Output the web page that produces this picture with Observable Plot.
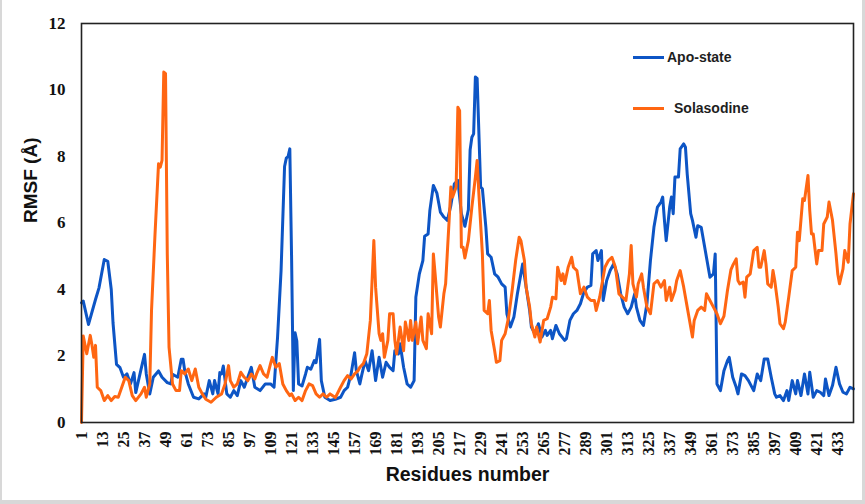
<!DOCTYPE html>
<html>
<head>
<meta charset="utf-8">
<script src="https://cdn.jsdelivr.net/npm/d3@7"></script>
<script src="https://cdn.jsdelivr.net/npm/@observablehq/plot@0.6"></script>
<style>
  html, body { margin: 0; padding: 0; background: #fff; }
  #wrap { position: relative; width: 865px; height: 504px; overflow: hidden; }
  #border { position: absolute; left: 0; top: 0; width: 865px; height: 504px; box-sizing: border-box;
            border-left: 2px solid #d8d8d8; border-right: 3px solid #d8d8d8; border-bottom: 4px solid #d8d8d8; pointer-events: none; }
  #legend { position: absolute; left: 0; top: 0; width: 865px; height: 504px; pointer-events: none;
            font-family: "Liberation Sans", Arial, sans-serif; font-weight: bold; font-size: 14px; color: #1e1e1e; }
  .item { position: absolute; display: flex; align-items: center; }
  .swatch { width: 31px; height: 3px; margin-right: 3px; }
</style>
</head>
<body>
<div id="wrap">
  <div id="chart"></div>
  <div id="legend"></div>
  <div id="border"></div>
</div>
<script>
// ---- data ----
const seriesNames = ["Apo-state", "Solasodine"];
const seriesColors = ["#0d55c5", "#ff6612"];

const apoRes = [1,2,5,9,11,14,16,18,19,21,23,25,27,29,31,32,35,37,38,40,42,45,47,50,52,53,56,58,59,60,62,65,68,71,72,74,76,77,79,80,81,82,84,86,88,90,92,94,96,98,100,103,106,109,111,113,115,117,118,119,120,121,122,123,124,125,127,129,130,132,134,135,137,138,140,143,146,149,151,153,155,157,158,160,161,163,165,167,169,171,173,175,177,179,180,182,183,185,187,189,191,192,194,196,197,199,200,202,204,206,208,210,212,214,216,218,220,222,223,224,225,226,227,229,230,232,233,235,237,239,241,243,244,246,248,250,252,253,255,257,258,260,262,264,266,267,269,270,272,274,277,278,280,282,284,286,288,290,292,293,295,296,298,299,301,303,305,307,309,311,313,315,317,318,320,322,324,326,328,330,332,333,334,335,337,338,339,340,342,343,345,346,347,349,350,352,353,355,357,358,360,362,363,364,366,368,370,371,373,375,376,378,380,382,385,387,389,391,393,395,397,398,400,402,404,405,407,409,410,412,414,416,417,419,421,423,425,426,428,430,432,434,436,438,440,442];
const apoVal = [3.6,3.65,2.95,3.7,4.05,4.9,4.85,4.0,3.0,1.75,1.65,1.36,1.46,1.16,1.5,0.9,1.6,2.05,1.46,0.86,1.36,1.55,1.36,1.2,1.16,1.45,1.36,1.9,1.9,1.55,1.16,0.76,0.71,0.86,0.76,1.26,0.86,1.26,0.86,1.5,1.46,1.7,0.86,0.76,0.96,0.81,1.26,1.06,1.36,1.66,1.06,0.96,1.16,1.16,1.06,2.57,4.57,7.7,7.95,8.0,8.23,5.0,0.96,2.7,2.45,1.16,1.1,1.46,1.66,1.6,1.86,1.8,2.5,1.26,0.76,0.66,0.7,0.76,0.96,1.06,1.46,2.1,1.56,1.16,1.41,1.86,1.56,2.16,1.26,1.96,1.36,1.81,1.66,1.56,2.16,2.06,2.37,1.66,1.16,1.06,1.26,3.77,4.47,4.87,5.6,5.67,6.38,7.13,6.9,6.33,6.18,6.08,6.53,7.18,7.28,6.28,5.9,6.4,8.2,8.58,8.68,10.39,10.35,7.08,7.03,5.87,5.07,4.97,4.47,4.37,4.17,4.07,3.27,2.87,3.17,3.87,4.47,4.77,4.07,3.37,2.87,2.67,2.97,2.57,2.77,2.62,2.77,2.52,2.92,2.67,2.47,2.52,3.07,3.27,3.37,3.57,3.92,4.07,4.12,5.07,5.17,4.87,5.17,3.67,4.27,4.57,4.77,4.47,3.87,3.47,3.27,3.47,3.87,3.47,3.07,2.92,3.57,4.87,5.87,6.48,6.63,6.78,6.08,5.47,6.48,6.78,6.28,7.38,7.38,8.23,8.38,8.28,7.48,6.28,6.08,5.57,5.92,5.87,5.27,4.97,4.37,4.47,5.07,1.16,0.96,1.56,1.86,1.96,1.36,1.06,0.86,1.46,1.41,1.26,0.96,1.46,1.26,1.91,1.91,1.36,0.86,0.76,0.81,0.66,0.96,0.66,1.26,0.86,1.26,0.81,1.46,0.86,1.51,0.76,0.96,0.91,0.81,1.31,0.81,1.11,1.66,1.16,0.91,0.86,1.06,1.01];

const solRes = [1,2,4,6,7,8,9,10,12,14,16,18,20,22,24,26,28,30,32,35,37,38,40,41,43,45,46,47,48,49,50,51,53,55,57,58,60,62,64,66,68,70,72,75,78,81,83,85,86,88,90,92,94,96,98,100,101,103,105,107,109,110,112,114,116,118,120,121,123,125,127,129,131,133,135,137,139,141,143,146,149,151,153,155,157,159,160,162,164,166,168,169,171,172,173,174,176,177,179,180,181,183,185,186,188,189,190,192,193,195,196,198,199,201,202,203,205,206,208,209,211,212,213,215,216,217,218,219,220,222,224,226,227,228,230,231,233,234,235,237,238,240,241,243,245,247,249,251,252,254,255,257,258,260,261,263,265,267,269,270,272,273,275,276,277,279,281,282,284,286,288,290,292,294,295,297,298,300,302,304,306,308,310,312,314,315,316,318,319,321,322,324,326,328,330,332,334,335,337,338,340,341,343,345,347,348,350,351,353,355,357,358,360,362,364,366,368,370,372,373,375,376,377,379,380,381,383,385,387,388,389,391,392,393,395,396,397,399,400,402,403,405,407,409,410,411,413,414,416,417,418,419,421,422,424,425,427,428,430,432,433,434,436,437,439,440,442];
const solVal = [0.0,2.6,2.07,2.62,2.32,1.96,2.32,1.06,0.96,0.66,0.81,0.66,0.78,0.76,1.06,1.36,1.26,0.81,0.66,0.86,1.06,0.76,1.16,3.37,5.67,7.78,7.68,7.88,10.54,10.49,5.07,2.27,1.16,0.96,0.96,1.56,1.46,1.61,1.26,1.61,1.06,0.86,0.7,0.61,0.76,0.86,1.16,1.71,1.26,1.06,1.16,1.51,1.36,1.26,1.46,1.31,1.46,1.71,1.46,1.36,1.77,1.96,1.66,1.77,1.16,0.96,0.81,0.86,0.66,0.76,0.66,0.96,1.16,1.11,0.86,0.76,0.86,0.76,0.86,0.75,1.06,1.26,1.41,1.31,1.46,1.56,1.66,1.77,2.07,3.07,5.47,4.07,2.67,2.47,2.67,1.96,2.47,3.27,3.27,2.47,2.06,2.87,2.16,3.02,2.47,3.07,2.47,3.02,2.37,3.17,2.47,2.22,3.27,2.67,5.07,4.47,3.17,2.87,3.87,4.17,6.08,7.08,6.78,7.08,9.48,9.38,5.27,5.27,4.95,5.47,6.48,7.38,7.88,6.88,5.07,3.37,3.27,3.67,2.77,2.16,1.81,1.86,2.47,2.67,3.17,3.97,4.87,5.57,5.47,4.87,4.07,3.47,2.97,2.57,2.87,2.42,3.07,3.12,3.47,3.77,3.72,4.67,4.27,4.47,4.17,4.67,4.97,4.67,4.57,3.87,4.07,3.77,3.67,3.67,3.37,3.77,4.07,4.67,4.87,4.97,4.67,3.87,3.77,3.67,4.47,5.32,4.17,3.77,4.17,4.47,4.07,3.47,3.27,4.17,4.27,4.07,4.27,3.67,4.07,3.67,3.97,4.27,4.57,4.07,3.47,3.17,2.57,3.07,3.37,3.47,3.37,3.87,3.67,3.47,3.27,2.97,3.2,3.97,4.6,4.72,4.92,4.27,4.17,4.22,3.77,4.37,4.47,5.17,5.27,4.67,4.67,5.17,4.77,4.17,4.07,4.57,4.27,3.47,2.97,2.82,3.02,3.77,4.57,4.67,5.72,5.47,6.73,6.68,7.43,6.38,5.67,5.67,4.77,5.17,5.17,5.97,6.18,6.63,6.08,5.07,4.47,4.17,4.62,5.17,4.82,5.97,6.88];

const xTicks = d3.range(1, 442, 12);
const yTicks = [0, 2, 4, 6, 8, 10, 12];
const xTitle = "Residues number";
const yTitle = "RMSF (Å)";

const apo = apoRes.map((r, i) => ({r, v: apoVal[i]}));
const sol = solRes.map((r, i) => ({r, v: solVal[i]}));

const chart = Plot.plot({
  width: 865,
  height: 504,
  marginLeft: 81,
  marginRight: 12,
  marginTop: 23,
  marginBottom: 82,
  style: { background: "transparent", overflow: "visible" },
  x: { domain: [1, 442] },
  y: { domain: [0, 12] },
  marks: [
    Plot.axisX({ ticks: xTicks, tickSize: 0, tickPadding: 9, tickRotate: -90, label: null,
                 fontFamily: "Liberation Serif, Times New Roman, serif", fontWeight: "bold", fontSize: 16, fill: "#111" }),
    Plot.axisY({ ticks: yTicks, tickSize: 0, tickPadding: 16, label: null,
                 fontFamily: "Liberation Serif, Times New Roman, serif", fontWeight: "bold", fontSize: 17, fill: "#111" }),
    Plot.lineY(apo, { x: "r", y: "v", stroke: seriesColors[0], strokeWidth: 3, strokeLinejoin: "round" }),
    Plot.lineY(sol, { x: "r", y: "v", stroke: seriesColors[1], strokeWidth: 3, strokeLinejoin: "round" }),
    Plot.frame({ stroke: "#222", strokeWidth: 1.6 }),
    Plot.text([xTitle], { frameAnchor: "bottom", dy: 58, text: d => d, fontFamily: "Liberation Sans, Arial, sans-serif",
                 fontWeight: "bold", fontSize: 19.5, fill: "#111" }),
    Plot.text([yTitle], { frameAnchor: "left", dx: -51, rotate: -90, text: d => d, fontFamily: "Liberation Sans, Arial, sans-serif",
                 fontWeight: "bold", fontSize: 19, fill: "#111" })
  ]
});
document.getElementById("chart").appendChild(chart);

// legend (inside the plot, top right)
const legend = document.getElementById("legend");
const legendPos = [{left: 633, top: 49, gap: 3}, {left: 633, top: 100, gap: 10}];
seriesNames.forEach((name, i) => {
  const item = document.createElement("div");
  item.className = "item";
  item.style.left = legendPos[i].left + "px";
  item.style.top = legendPos[i].top + "px";
  const sw = document.createElement("div");
  sw.className = "swatch";
  sw.style.background = seriesColors[i];
  sw.style.marginRight = legendPos[i].gap + "px";
  const t = document.createElement("span");
  t.textContent = name;
  item.appendChild(sw);
  item.appendChild(t);
  legend.appendChild(item);
});
</script>
</body>
</html>
